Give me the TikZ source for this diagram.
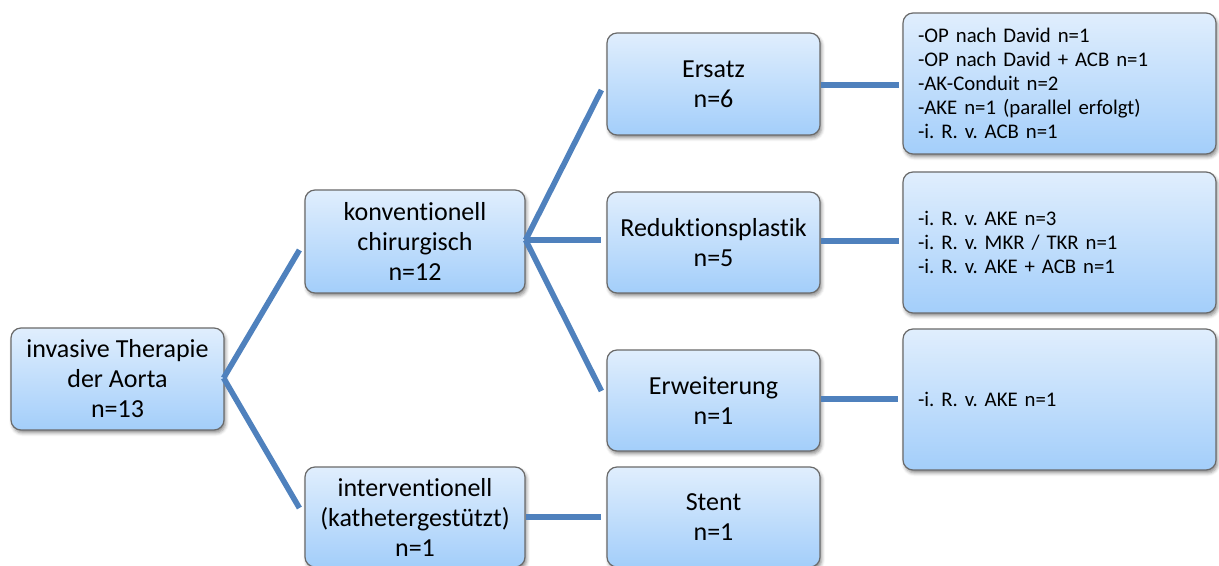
\documentclass[tikz,border=0pt]{standalone}
\usepackage{fontspec}
\setmainfont{Carlito}[Ligatures=NoCommon]
\usetikzlibrary{calc,shadows.blur}
\frenchspacing

\definecolor{boxtop}{HTML}{E0EEFD}
\definecolor{boxbot}{HTML}{A3CEFA}
\definecolor{boxline}{HTML}{6A6A6A}
\definecolor{linkblue}{HTML}{4F81BD}

\tikzset{
  card/.style={draw=boxline, line width=0.9pt, rounded corners=7.5pt,
    top color=boxtop, bottom color=boxbot,
    blur shadow={shadow xshift=1.2pt, shadow yshift=-2.2pt,
                 shadow blur radius=2.5pt, shadow opacity=45},
    inner sep=0pt},
  bigcard/.style={card, align=center, minimum width=#1*0.75pt,
    font=\fontsize{19.5pt}{22.5pt}\selectfont},
  listcard/.style={card, align=left, text width=212.25pt, inner xsep=11.25pt,
    minimum height=105.75pt, font=\fontsize{15.6pt}{18pt}\selectfont},
  link/.style={draw=linkblue, line width=4.2pt},
}

\begin{document}
\begin{tikzpicture}[x=0.75pt, y=-0.75pt]
\useasboundingbox (0,0) rectangle (1219,566);

% first level
\node[bigcard=213, minimum height=76.5pt] (root) at (117.5,379)
  {invasive Therapie\\der Aorta\\n=13};

% second level
\node[bigcard=220, minimum height=77.25pt] (konv) at (415,241.5)
  {konventionell\\chirurgisch\\n=12};
\node[bigcard=220, minimum height=75pt] (interv) at (415,517)
  {interventionell\\(kathetergestützt)\\n=1};

% third level
\node[bigcard=213, minimum height=76.5pt] (ersatz) at (713.5,84)
  {Ersatz\\n=6};
\node[bigcard=213, minimum height=75.75pt] (redukt) at (713.5,242.5)
  {Reduktionsplastik\\n=5};
\node[bigcard=213, minimum height=75.75pt] (erweit) at (713.5,400.5)
  {Erweiterung\\n=1};
\node[bigcard=213, minimum height=75pt] (stent) at (713.5,517)
  {Stent\\n=1};

% detail lists
\node[listcard] (list1) at (1059.5,83.5)
  {-OP nach David n=1\\-OP nach David + ACB n=1\\-AK-Conduit n=2\\-AKE n=1 (parallel erfolgt)\\-i. R. v. ACB n=1};
\node[listcard] (list2) at (1059.5,242.5)
  {-i. R. v. AKE n=3\\-i. R. v. MKR / TKR n=1\\-i. R. v. AKE + ACB n=1};
\node[listcard] (list3) at (1059.5,399.5)
  {-i. R. v. AKE n=1};

% branching points on the right-hand sides of the two left boxes
\coordinate (rootfork) at ($(root.east)+(-1,-1)$);
\coordinate (konvfork) at ($(konv.east)+(0,-1.5)$);

% connectors
\draw[link] (rootfork) -- ($(konv.west)+(-5,8.5)$);
\draw[link] (rootfork) -- ($(interv.west)+(-5,-9)$);
\draw[link] (konvfork) -- ($(ersatz.west)+(-5,6)$);
\draw[link] (konvfork) -- ($(konvfork -| redukt.west)+(-5,0)$);
\draw[link] (konvfork) -- ($(erweit.west)+(-5,-9.5)$);
\draw[link] (interv.east) -- ($(interv.east -| stent.west)+(-5,0)$);
\draw[link] ($(ersatz.east)+(0,1)$) -- ($(ersatz.east -| list1.west)+(-3,1)$);
\draw[link] ($(redukt.east)+(0,-1.5)$) -- ($(redukt.east -| list2.west)+(-3,-1.5)$);
\draw[link] ($(erweit.east)+(0,-1.5)$) -- ($(erweit.east -| list3.west)+(-4,-1.5)$);
\end{tikzpicture}
\end{document}
